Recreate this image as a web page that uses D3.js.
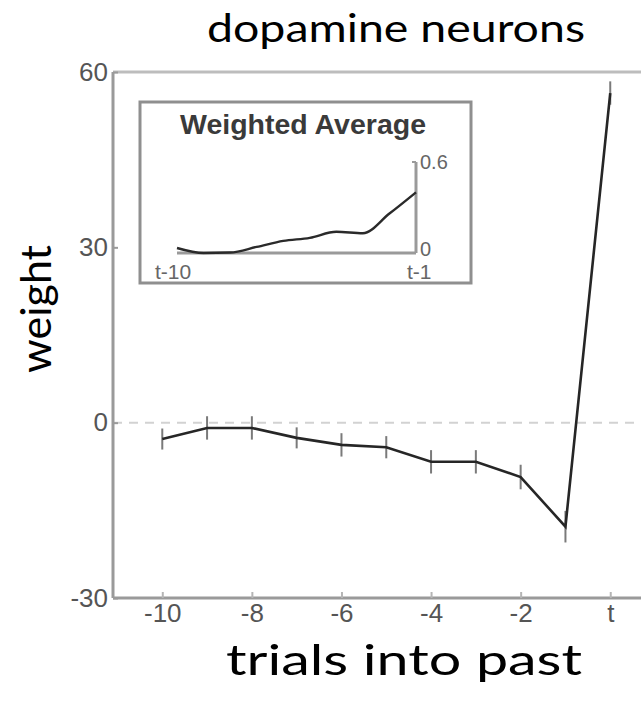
<!DOCTYPE html>
<html>
<head>
<meta charset="utf-8">
<script src="https://cdn.jsdelivr.net/npm/d3@7"></script>
<style>
  html, body { margin: 0; padding: 0; background: #fff; }
  svg { display: block; }
</style>
</head>
<body>
<script>
// ---- data ----
const lags = [-10, -9, -8, -7, -6, -5, -4, -3, -2, -1, 0];
const weights = [-2.8, -0.9, -0.9, -2.6, -3.8, -4.2, -6.7, -6.7, -9.3, -17.8, 56.4];
const errors = [1.8, 2.0, 2.0, 1.8, 2.0, 1.9, 2.0, 2.0, 2.1, 2.7, 2.0];
const xTicks = [-10, -8, -6, -4, -2, 0];
const xTickLabels = ["-10", "-8", "-6", "-4", "-2", "t"];
const yTicks = [-30, 0, 30, 60];

const insetLags = [-10, -9, -8, -7, -6, -5, -4, -3, -2, -1];
const insetValues = [0.033, 0.0, 0.003, 0.04, 0.08, 0.10, 0.14, 0.13, 0.26, 0.40];
const insetTitle = "Weighted Average";
const insetXLabels = ["t-10", "t-1"];
const insetYTicks = [0, 0.6];

const W = 641, H = 703;
const svg = d3.select("body").append("svg").attr("width", W).attr("height", H);

const x = d3.scaleLinear().domain([-11.1, 1.2]).range([113, 664]);
const y = d3.scaleLinear().domain([-30, 60]).range([598, 72]);

const axisColor = "#9a9a9a";
const labelFont = "'Liberation Sans', Arial, sans-serif";

// top border
svg.append("line").attr("x1", x(-11.1)).attr("x2", W).attr("y1", y(60)).attr("y2", y(60))
  .attr("stroke", "#bdbdbd").attr("stroke-width", 3);

// zero dashed line
svg.append("line").attr("x1", x(-11.1)).attr("x2", W).attr("y1", y(0)).attr("y2", y(0))
  .attr("stroke", "#d2d2d2").attr("stroke-width", 2).attr("stroke-dasharray", "9,7");

// y axis
const yAxis = svg.append("g").attr("transform", `translate(${x(-11.1)},0)`)
  .call(d3.axisLeft(y).tickValues(yTicks).tickSize(-5).tickPadding(5).tickFormat(d => String(d)));
yAxis.select(".domain").attr("stroke", axisColor).attr("stroke-width", 3).attr("d", `M0,${y(60)}V${y(-30)}`);
yAxis.selectAll(".tick line").attr("stroke", axisColor).attr("stroke-width", 2);
yAxis.selectAll(".tick text").attr("font-family", labelFont).attr("font-size", 26).attr("fill", "#555");

// x axis
const xAxis = svg.append("g").attr("transform", `translate(0,${y(-30)})`)
  .call(d3.axisBottom(x).tickValues(xTicks).tickSize(-6).tickPadding(6)
    .tickFormat((d, i) => xTickLabels[i]));
xAxis.select(".domain").attr("stroke", axisColor).attr("stroke-width", 3).attr("d", `M${x(-11.1)},0H${W}`);
xAxis.selectAll(".tick line").attr("stroke", "#b5b5b5").attr("stroke-width", 2);
xAxis.selectAll(".tick text").attr("font-family", labelFont).attr("font-size", 26).attr("fill", "#555");

// error bars
svg.append("g").selectAll("line").data(lags).join("line")
  .attr("x1", d => x(d)).attr("x2", d => x(d))
  .attr("y1", (d, i) => y(weights[i] - errors[i]))
  .attr("y2", (d, i) => y(weights[i] + errors[i]))
  .attr("stroke", "#7a7a7a").attr("stroke-width", 2);

// main line
const line = d3.line().x(d => x(d[0])).y(d => y(d[1]));
svg.append("path").datum(lags.map((d, i) => [d, weights[i]]))
  .attr("d", line).attr("fill", "none").attr("stroke", "#262626").attr("stroke-width", 2.6);

// ---- inset ----
const ix = d3.scaleLinear().domain([-10, -1]).range([177, 416]);
const iy = d3.scaleLinear().domain([0, 0.6]).range([253, 162]);

svg.append("rect").attr("x", 140).attr("y", 102).attr("width", 331).attr("height", 181)
  .attr("fill", "#fff").attr("stroke", "#8f8f8f").attr("stroke-width", 3);

svg.append("text").attr("x", 303).attr("y", 134).attr("text-anchor", "middle")
  .attr("font-family", labelFont).attr("font-size", 28).attr("fill", "#3a3a3a")
  .attr("font-weight", "bold").attr("textLength", 246).attr("lengthAdjust", "spacingAndGlyphs")
  .text(insetTitle);

// inset axes
svg.append("line").attr("x1", ix(-10)).attr("x2", ix(-1)).attr("y1", iy(0)).attr("y2", iy(0))
  .attr("stroke", "#9a9a9a").attr("stroke-width", 3);
svg.append("line").attr("x1", ix(-1)).attr("x2", ix(-1)).attr("y1", iy(0)).attr("y2", iy(0.6))
  .attr("stroke", "#9a9a9a").attr("stroke-width", 3);
svg.append("line").attr("x1", ix(-1) - 4).attr("x2", ix(-1)).attr("y1", iy(0.6)).attr("y2", iy(0.6))
  .attr("stroke", "#9a9a9a").attr("stroke-width", 2);

svg.append("g").selectAll("text").data(insetYTicks).join("text")
  .attr("x", ix(-1) + 4).attr("y", (d, i) => i === 0 ? iy(d) - 4 : iy(d)).attr("dy", "0.35em")
  .attr("font-family", labelFont).attr("font-size", 20).attr("fill", "#666")
  .text(d => String(d));

svg.append("g").selectAll("text").data([-10, -1]).join("text")
  .attr("x", (d, i) => i === 0 ? ix(d) - 22 : ix(d) - 9).attr("y", iy(0) + 26)
  .attr("font-family", labelFont).attr("font-size", 21).attr("fill", "#666")
  .text((d, i) => insetXLabels[i]);

svg.append("path").datum(insetLags.map((d, i) => [d, insetValues[i]]))
  .attr("d", d3.line().x(d => ix(d[0])).y(d => iy(d[1])).curve(d3.curveMonotoneX))
  .attr("fill", "none").attr("stroke", "#2a2a2a").attr("stroke-width", 2.4);

// ---- titles ----
const titleFont = "Lato, 'Open Sans', sans-serif";
svg.append("text").attr("x", 396).attr("y", 42).attr("text-anchor", "middle")
  .attr("font-family", titleFont).attr("font-size", 38).attr("fill", "#000")
  .attr("textLength", 378).attr("lengthAdjust", "spacingAndGlyphs")
  .text("dopamine neurons");
svg.append("text").attr("transform", "translate(51,309) rotate(-90)").attr("text-anchor", "middle")
  .attr("font-family", titleFont).attr("font-size", 43).attr("fill", "#000")
  .text("weight");
svg.append("text").attr("x", 404).attr("y", 675).attr("text-anchor", "middle")
  .attr("font-family", titleFont).attr("font-size", 43).attr("fill", "#000")
  .attr("textLength", 356).attr("lengthAdjust", "spacingAndGlyphs")
  .text("trials into past");
</script>
</body>
</html>
